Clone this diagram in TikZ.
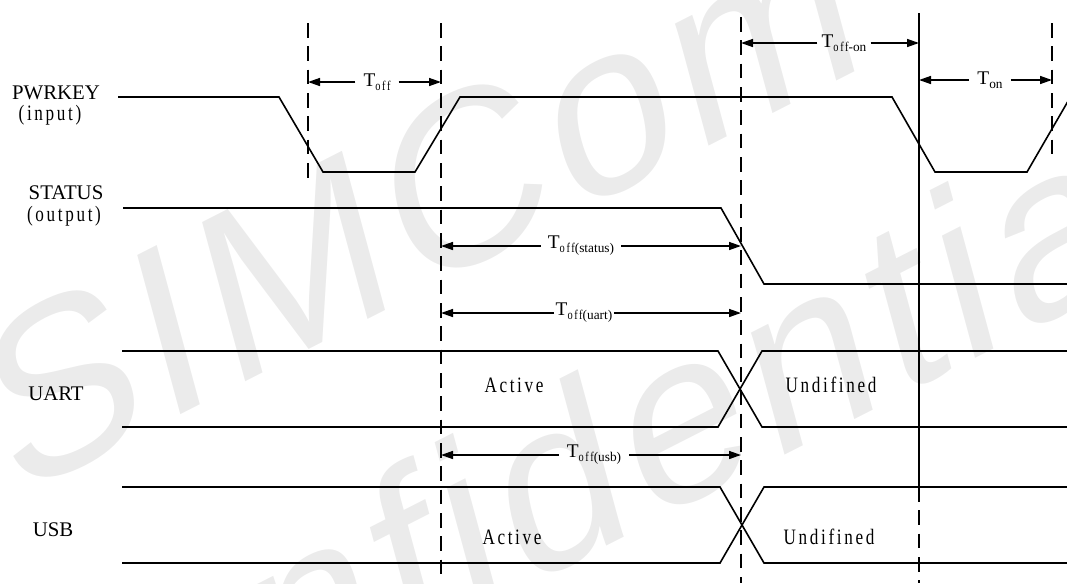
\documentclass[tikz,border=0pt]{standalone}
\usepackage{fontspec}
\setmainfont{Liberation Serif}
\newfontfamily\narrowfont[FakeStretch=0.78,LetterSpace=12]{Liberation Serif}
\newfontfamily\wmfont[FakeSlant=0.21,LetterSpace=4]{Liberation Sans}
\usetikzlibrary{arrows.meta}
\newcommand{\tsub}[1]{\raisebox{-0.45ex}{\fontsize{10}{10}\selectfont #1}}

\begin{document}
\begin{tikzpicture}[x=0.75pt,y=-0.75pt,>={Triangle[length=9pt,width=6pt]},
  sig/.style={line width=1.2pt},
  guide/.style={line width=1.1pt,dash pattern=on 11pt off 6.5pt},
  dim/.style={->,line width=1.1pt},
  name node/.style={font=\fontsize{15.6}{16}\selectfont,inner sep=0pt},
  mono node/.style={font=\narrowfont\fontsize{16.5}{17}\selectfont,inner sep=0pt},
  time node/.style={font=\fontsize{14.5}{15}\selectfont,inner xsep=3pt,inner ysep=0pt},
  wm node/.style={font=\wmfont\fontsize{176}{176}\selectfont,text=black!8,rotate=27}]
  \useasboundingbox (0,0) rectangle (1067,583);

  % watermark
  \node[wm node] (wm1) at (405,210) {SIMCom};
  \node[wm node] (wm2) at (575,468) {confidential};

  % guide lines
  \coordinate (g1) at (308,23);
  \coordinate (g2) at (441,23);
  \coordinate (g3) at (741,17);
  \coordinate (s1) at (919,13);
  \coordinate (g4) at (1052,23);
  \draw[guide] (g1) -- (308,184);
  \draw[guide] (g2) -- (441,583);
  \draw[guide] (g3) -- (741,583);
  \draw[sig] (s1) -- (919,487);
  \draw[guide] (919,487) -- (919,583);
  \draw[guide] (g4) -- (1052,158);

  % signal names
  \node[name node] (pwrkey) at (56,93) {PWRKEY};
  \node[mono node] (input) at (50,115) {(input)};
  \node[name node] (status) at (66,193) {STATUS};
  \node[mono node] (output) at (64,216) {(output)};
  \node[name node] (uart) at (56,394) {UART};
  \node[name node] (usb) at (53,530) {USB};

  % waveforms
  \draw[sig] (118,97) -- (279,97) -- (323,172) -- (415,172) -- (460,97)
    -- (892,97) -- (935,172) -- (1027,172) -- (1071,96);
  \draw[sig] (123,208) -- (721,208) -- (764,284) -- (1067,284);
  \draw[sig] (122,351) -- (718,351) -- (762,427) -- (1067,427);
  \draw[sig] (122,427) -- (718,427) -- (762,351) -- (1067,351);
  \draw[sig] (122,487) -- (720,487) -- (764,563) -- (1067,563);
  \draw[sig] (122,563) -- (720,563) -- (764,487) -- (1067,487);

  \node[mono node] (act1) at (514,385) {Active};
  \node[mono node] (und1) at (831,385) {Undifined};
  \node[mono node] (act2) at (512,537) {Active};
  \node[mono node] (und2) at (829,537) {Undifined};

  % timing
  \node[time node,inner xsep=6pt] (toff) at (377,82) {T\tsub{\narrowfont off}};
  \node[time node] (toffon) at (844,43) {T\tsub{\narrowfont off}\tsub{-on}};
  \node[time node,inner xsep=6pt] (ton) at (990,80) {T\tsub{on}};
  \node[time node,inner xsep=5pt] (toffst) at (581,246) {T\tsub{\narrowfont off}\tsub{(status)}};
  \node[time node,inner xsep=1pt] (toffuart) at (584,313) {T\tsub{\narrowfont off}\tsub{(uart)}};
  \node[time node,inner xsep=6pt] (toffusb) at (594,455) {T\tsub{\narrowfont off}\tsub{(usb)}};

  \draw[dim] (toff.west) -- (toff.west -| g1);
  \draw[dim] (toff.east) -- (toff.east -| g2);
  \draw[dim] (toffon.west) -- (toffon.west -| g3);
  \draw[dim] (toffon.east) -- (toffon.east -| s1);
  \draw[dim] (ton.west) -- (ton.west -| s1);
  \draw[dim] (ton.east) -- (ton.east -| g4);
  \draw[dim] (toffst.west) -- (toffst.west -| g2);
  \draw[dim] (toffst.east) -- (toffst.east -| g3);
  \draw[dim] (toffuart.west) -- (toffuart.west -| g2);
  \draw[dim] (toffuart.east) -- (toffuart.east -| g3);
  \draw[dim] (toffusb.west) -- (toffusb.west -| g2);
  \draw[dim] (toffusb.east) -- (toffusb.east -| g3);
\end{tikzpicture}
\end{document}
